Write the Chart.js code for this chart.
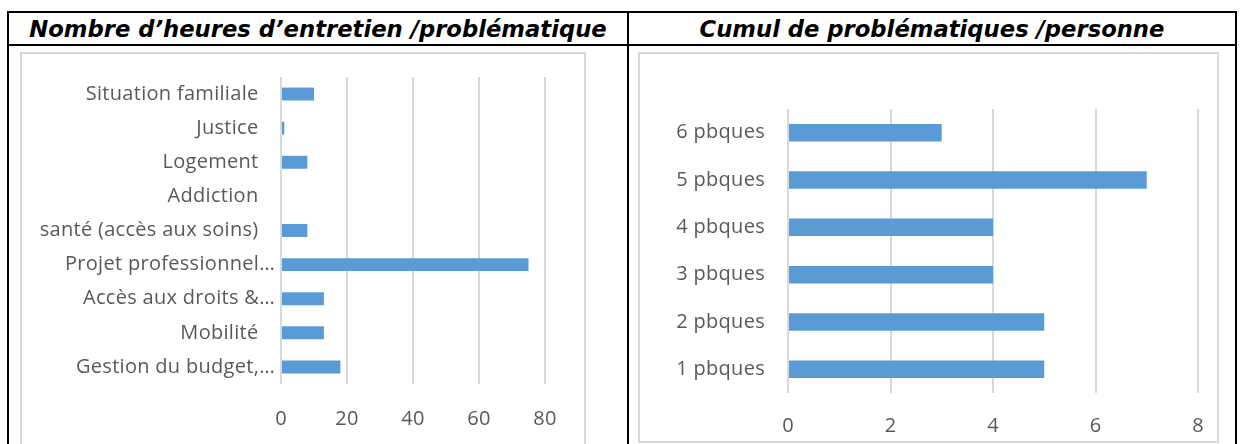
<!DOCTYPE html>
<html>
<head>
<meta charset="utf-8">
<script src="https://cdn.jsdelivr.net/npm/chart.js@4"></script>
<style>
  html, body { margin:0; padding:0; background:#fff; }
  body { width:1242px; height:444px; position:relative; overflow:hidden; }
  .ln { position:absolute; background:#000; }
  .title { position:absolute; top:14px; height:31px; line-height:31px; text-align:center;
           font-family:"DejaVu Sans", sans-serif; font-weight:bold; font-style:italic;
           font-size:22.7px; color:#000; white-space:nowrap; }
  .box { position:absolute; border:2px solid #d9d9d9; box-sizing:border-box; }
  canvas { position:absolute; }
</style>
</head>
<body>
<div class="ln" style="left:7px;top:11px;width:1230px;height:2px"></div>
<div class="ln" style="left:7px;top:44px;width:1230px;height:2px"></div>
<div class="ln" style="left:7px;top:11px;width:2px;height:440px"></div>
<div class="ln" style="left:627px;top:11px;width:2px;height:440px"></div>
<div class="ln" style="left:1235px;top:11px;width:2px;height:440px"></div>
<div class="title" style="left:9px;width:618px">Nombre d’heures d’entretien /problématique</div>
<div class="title" style="left:629px;width:606px">Cumul de problématiques /personne</div>
<div class="box" style="left:20px;top:52px;width:566px;height:410px"></div>
<div class="box" style="left:638px;top:52px;width:581px;height:391px"></div>
<canvas id="c1" width="562" height="390" style="left:22px;top:54px;width:562px;height:390px"></canvas>
<canvas id="c2" width="577" height="387" style="left:640px;top:54px;width:577px;height:387px"></canvas>
<script>
// ---- data ----
const heuresCategories = ['Situation familiale', 'Justice', 'Logement', 'Addiction',
  'santé (accès aux soins)', 'Projet professionnel…', 'Accès aux droits &…', 'Mobilité', 'Gestion du budget,…'];
const heuresValues = [10, 1, 8, 0, 8, 75, 13, 13, 18];
const heuresTicks = [0, 20, 40, 60, 80];

const cumulCategories = ['6 pbques', '5 pbques', '4 pbques', '3 pbques', '2 pbques', '1 pbques'];
const cumulValues = [3, 7, 4, 4, 5, 5];
const cumulTicks = [0, 2, 4, 6, 8];

// ---- styling ----
const BAR = '#5b9bd5';
const GRID = '#d9d9d9';
const TXT = '#595959';
const FONT = 'Open Sans';

const spacing = {
  id: 'spacing',
  beforeDraw(chart) { chart.ctx.letterSpacing = '0.3px'; }
};

function makeChart(id, labels, values, ticks, o) {
  return new Chart(document.getElementById(id), {
    type: 'bar',
    data: { labels: labels, datasets: [{ data: values, backgroundColor: BAR,
      categoryPercentage: 1, barPercentage: o.barPct }] },
    plugins: [spacing],
    options: {
      indexAxis: 'y',
      responsive: false,
      animation: false,
      events: [],
      layout: { padding: { left: 0, right: o.padRight, top: o.padTop, bottom: 0 } },
      plugins: { legend: { display: false }, tooltip: { enabled: false } },
      scales: {
        x: {
          min: ticks[0], max: ticks[ticks.length - 1],
          afterBuildTicks: s => { s.ticks = ticks.map(v => ({ value: v })); },
          afterFit: s => { s.height = o.xHeight; s.paddingLeft = 0; s.paddingRight = 0; },
          grid: { color: GRID, lineWidth: 2, drawTicks: false },
          border: { display: false },
          ticks: { color: TXT, font: { family: FONT, size: 20 }, padding: o.xPad }
        },
        y: {
          afterFit: s => { s.width = o.yWidth; s.paddingTop = 0; s.paddingBottom = 0; },
          grid: { display: false, drawTicks: false },
          border: { display: false },
          ticks: { color: TXT, font: { family: FONT, size: 20 }, padding: o.yPad,
            callback: function (v, i) {
              const l = this.getLabelForValue(v);
              return l.endsWith('…') ? l : l + o.trail;
            } }
        }
      }
    }
  });
}

makeChart('c1', heuresCategories, heuresValues, heuresTicks,
  { barPct: 0.38, padRight: 39, padTop: 23, xHeight: 60, yWidth: 259, xPad: 23, yPad: 6,
    trail: '\u00a0\u00a0\u00a0' });
makeChart('c2', cumulCategories, cumulValues, cumulTicks,
  { barPct: 0.37, padRight: 19, padTop: 55, xHeight: 48, yWidth: 148, xPad: 21, yPad: 23,
    trail: '' });
</script>
</body>
</html>
